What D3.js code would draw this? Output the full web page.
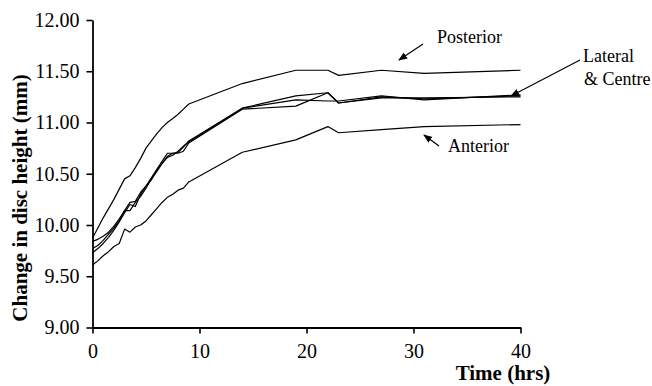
<!DOCTYPE html>
<html><head><meta charset="utf-8">
<script src="https://cdn.jsdelivr.net/npm/d3@7"></script>
<style>
html,body{margin:0;padding:0;background:#fff;}
svg{display:block;}
svg text{font-family:"Times New Roman","Liberation Serif","DejaVu Serif",serif !important;fill:#000;}
</style></head>
<body><svg id="c" width="652" height="386"></svg>
<script>
const times = [0,0.5,1,1.5,2,2.5,3,3.5,4,4.5,5,5.5,6,6.5,7,7.5,8,8.5,9,14,19,22,23,27,31,40];
const posterior = [9.87,9.97,10.07,10.16,10.25,10.35,10.45,10.48,10.56,10.65,10.75,10.82,10.89,10.95,11.00,11.04,11.08,11.13,11.18,11.38,11.51,11.51,11.46,11.51,11.48,11.51];
const anterior  = [9.61,9.65,9.70,9.74,9.79,9.82,9.96,9.93,9.98,10.00,10.04,10.10,10.16,10.22,10.27,10.30,10.34,10.36,10.42,10.71,10.83,10.96,10.90,10.93,10.96,10.98];
const lateral1  = [9.84,9.86,9.89,9.93,9.99,10.06,10.14,10.22,10.23,10.32,10.38,10.46,10.54,10.62,10.70,10.70,10.71,10.76,10.82,11.14,11.26,11.29,11.19,11.25,11.23,11.26];
const lateral2  = [9.77,9.80,9.85,9.91,9.97,10.04,10.14,10.14,10.22,10.28,10.36,10.45,10.52,10.60,10.67,10.70,10.70,10.72,10.80,11.13,11.16,11.29,11.19,11.24,11.24,11.25];
const centre    = [9.73,9.77,9.82,9.88,9.95,10.03,10.12,10.20,10.18,10.30,10.38,10.44,10.53,10.60,10.66,10.68,10.72,10.77,10.81,11.14,11.22,11.21,11.21,11.26,11.22,11.27];
const xTicks = [0,10,20,30,40];
const yTicks = [9.00,9.50,10.00,10.50,11.00,11.50,12.00];
const seriesNames = ["Posterior","Anterior","Lateral 1","Lateral 2","Centre"];
const seriesValues = [posterior, anterior, lateral1, lateral2, centre];

const svg = d3.select("#c");
const x = d3.scaleLinear().domain([0,40]).range([92.5,520.5]);
const y = d3.scaleLinear().domain([9,12]).range([327.5,20]);

const gx = svg.append("g").attr("transform","translate(0,327.5)")
  .call(d3.axisBottom(x).tickValues(xTicks).tickSize(6).tickSizeOuter(0).tickPadding(10));
const gy = svg.append("g").attr("transform","translate(92.5,0)")
  .call(d3.axisLeft(y).tickValues(yTicks).tickSize(6).tickSizeOuter(0).tickPadding(7).tickFormat(d3.format(".2f")));
[gx,gy].forEach(g=>{
  g.attr("font-family",null);
  g.select(".domain").attr("stroke","#000").attr("stroke-width",1.8);
  g.selectAll(".tick line").attr("stroke","#000").attr("stroke-width",1.6);
  g.selectAll(".tick text").attr("font-size",20).attr("fill","#000");
});

const line = d3.line().x((d,i)=>x(times[i])).y(d=>y(d));
svg.append("g").selectAll("path").data(seriesValues).join("path")
  .attr("d", d=>line(d)).attr("fill","none").attr("stroke","#000").attr("stroke-width",1.2)
  .attr("stroke-linejoin","round");

svg.append("text").attr("transform","translate(27,198) rotate(-90)")
  .attr("text-anchor","middle").attr("font-size",21).attr("font-weight","bold")
  .text("Change in disc height (mm)");
svg.append("text").attr("x",503).attr("y",380).attr("text-anchor","middle")
  .attr("font-size",21).attr("font-weight","bold").text("Time (hrs)");

// annotations
const defs = svg.append("defs");
defs.append("marker").attr("id","ah").attr("viewBox","0 0 10 10").attr("refX",9).attr("refY",5)
  .attr("markerWidth",9).attr("markerHeight",9).attr("markerUnits","userSpaceOnUse").attr("orient","auto")
  .append("path").attr("d","M0,1 L10,5 L0,9 z").attr("fill","#000");
const annos = [
  {label:["Posterior"], tx:437, ty:43, x1:423, y1:44, x2:399, y2:60},
  {label:["Lateral","& Centre"], tx:583, ty:62, x1:580, y1:60, x2:511, y2:96},
  {label:["Anterior"], tx:448, ty:152, x1:439, y1:146, x2:424, y2:135}
];
annos.forEach(a=>{
  svg.append("line").attr("x1",a.x1).attr("y1",a.y1).attr("x2",a.x2).attr("y2",a.y2)
    .attr("stroke","#000").attr("stroke-width",1.2).attr("marker-end","url(#ah)");
  a.label.forEach((t,i)=>svg.append("text").attr("x",a.tx+(i?1:0)).attr("y",a.ty+i*23)
    .attr("font-size",18).text(t));
});
</script></body></html>
